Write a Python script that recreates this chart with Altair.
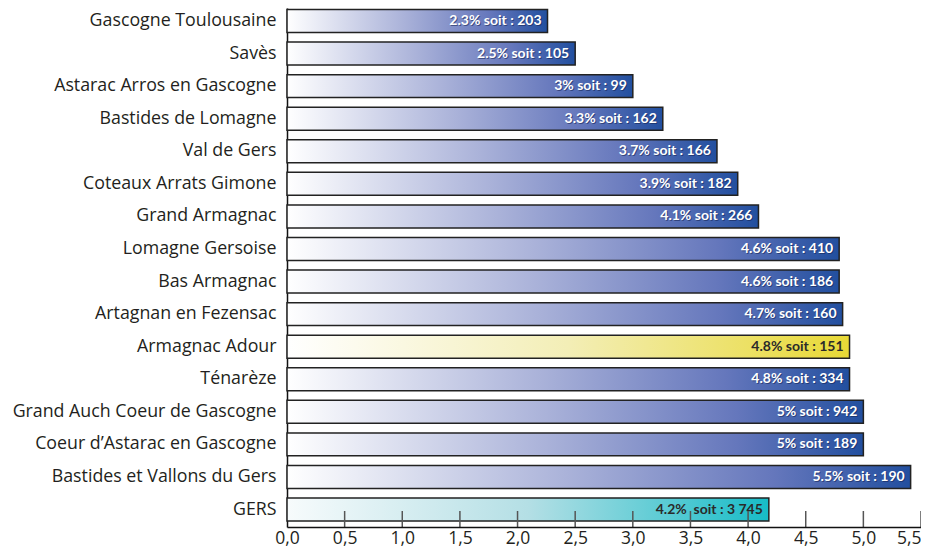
import altair as alt
import pandas as pd

regions = [
    "Gascogne Toulousaine", "Savès", "Astarac Arros en Gascogne", "Bastides de Lomagne",
    "Val de Gers", "Coteaux Arrats Gimone", "Grand Armagnac", "Lomagne Gersoise",
    "Bas Armagnac", "Artagnan en Fezensac", "Armagnac Adour", "Ténarèze",
    "Grand Auch Coeur de Gascogne", "Coeur d\u2019Astarac en Gascogne ", "Bastides et Vallons du Gers", "GERS",
]
values = [2.26, 2.50, 3.00, 3.26, 3.73, 3.91, 4.09, 4.79, 4.79, 4.82, 4.88, 4.88, 5.00, 5.00, 5.41, 4.18]
labels = [
    "2.3% soit : 203", "2.5% soit : 105", "3% soit : 99", "3.3% soit : 162",
    "3.7% soit : 166", "3.9% soit : 182", "4.1% soit : 266", "4.6% soit : 410",
    "4.6% soit : 186", "4.7% soit : 160", "4.8% soit : 151", "4.8% soit : 334",
    "5% soit : 942", "5% soit : 189", "5.5% soit : 190", "4.2%\u00a0 soit : 3\u00a0745",
]
groups = ["blue"] * 10 + ["yellow"] + ["blue"] * 4 + ["teal"]
tick_values = [0.5, 1.0, 1.5, 2.0, 2.5, 3.0, 3.5, 4.0, 4.5, 5.0, 5.5]
axis_values = [0.0, 0.5, 1.0, 1.5, 2.0, 2.5, 3.0, 3.5, 4.0, 4.5, 5.0, 5.5]

df = pd.DataFrame({"region": regions, "value": values, "label": labels, "group": groups})

def grad(stops):
    return alt.Gradient(
        gradient="linear", x1=0, x2=1, y1=0, y2=0,
        stops=[alt.GradientStop(offset=o, color=c) for o, c in stops],
    )

g_blue = grad([(0, "#ffffff"), (0.45, "#aab2d9"), (0.78, "#6577bc"), (1, "#224f9f")])
g_yellow = grad([(0, "#ffffff"), (0.5, "#f3eeb6"), (1, "#e8d936")])
g_teal = grad([(0, "#f7fbfc"), (0.5, "#b4dfe5"), (1, "#17bcc7")])

PLOT_W = 634
PLOT_H = 519

yscale = alt.Scale(paddingInner=0.295, paddingOuter=0.115, align=0.2)
yaxis = alt.Axis(
    title=None, ticks=False, labelPadding=11, labelFontSize=17.8, labelFont="Open Sans",
    labelColor="#231f20", labelLimit=0, domainColor="#111111", domainWidth=1.5,
)
xscale = alt.Scale(domain=[0, 5.5], nice=False, zero=True)
xaxis = alt.Axis(
    title=None, values=axis_values, ticks=False, grid=False,
    labelExpr="replace(format(datum.value, '.1f'), '.', ',')",
    labelFontSize=17.5, labelFont="Open Sans", labelColor="#231f20", labelPadding=2,
    labelAlign=alt.ConditionalAxisLabelAlign(condition={"test": "datum.value == 5.5", "value": "right"}, value="center"),
    domainColor="#111111", domainWidth=1.5, zindex=2,
)

base = alt.Chart(df).encode(
    y=alt.Y("region:N", sort=regions, scale=yscale, axis=yaxis),
    x=alt.X("value:Q", scale=xscale, axis=xaxis),
)

def bars(group, g):
    return base.transform_filter(alt.datum.group == group).mark_bar(
        color=g, stroke="#222222", strokeWidth=1.5, cornerRadius=0
    )

shadow = base.transform_filter(alt.datum.group == "blue").mark_text(
    align="right", baseline="middle", dx=-5, dy=1, font="Lato", fontWeight="bold", fontSize=14,
    color="#142250", opacity=0.55,
).encode(text="label:N")

text = base.mark_text(
    align="right", baseline="middle", dx=-6, font="Lato", fontWeight="bold", fontSize=14,
).encode(
    text="label:N",
    color=alt.condition(alt.datum.group == "blue", alt.value("#ffffff"), alt.value("#2a2a2a")),
)

ticks = alt.Chart(pd.DataFrame({"t": tick_values})).mark_rule(
    color="#555555", strokeWidth=1.5
).encode(x=alt.X("t:Q", scale=xscale, axis=xaxis), y=alt.value(PLOT_H - 16), y2=alt.value(PLOT_H))

chart = alt.layer(
    bars("blue", g_blue), bars("yellow", g_yellow), bars("teal", g_teal), shadow, text, ticks
).properties(
    width=PLOT_W, height=PLOT_H,
    autosize=alt.AutoSizeParams(type="none"),
    padding={"left": 279, "top": 0, "right": 0, "bottom": 20},
).configure_view(stroke=None)

chart.save("out.html", embed_options={"renderer": "svg", "actions": False})
